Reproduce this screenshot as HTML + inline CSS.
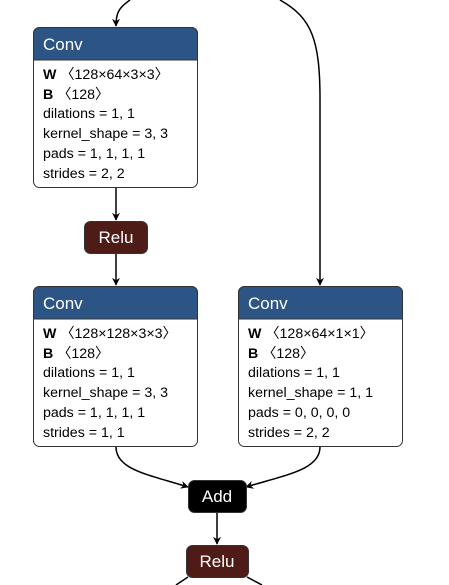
<!DOCTYPE html>
<html><head><style>
html,body{margin:0;padding:0;background:#fff;width:449px;height:585px;overflow:hidden}
svg{display:block;font-family:"Liberation Sans","DejaVu Sans",sans-serif}
.t{font-size:14.2px;fill:#000}
.h{font-size:17px;fill:#fff}
</style></head><body>
<svg width="449" height="585" viewBox="0 0 449 585">
<defs><marker id="a" viewBox="0 0 10 10" refX="9" refY="5" markerWidth="8" markerHeight="8" orient="auto" markerUnits="userSpaceOnUse"><path d="M0,0 L10,5 L0,10 L3,5 z" fill="#000"/></marker></defs>
<g fill="none" stroke="#000" stroke-width="1.5">
<path d="M130,0 C118,8 116,14 116,26" marker-end="url(#a)"/>
<path d="M280,0 C312,18 320,40 320,100 L320,285" marker-end="url(#a)"/>
<path d="M116,188 L116,220" marker-end="url(#a)"/>
<path d="M116,254 L116,285" marker-end="url(#a)"/>
<path d="M116,447 C116,470 150,475 188,487" marker-end="url(#a)"/>
<path d="M320,447 C320,470 285,475 246,487" marker-end="url(#a)"/>
<path d="M217,513 L217,544" marker-end="url(#a)"/>
<path d="M188,577 L176,585"/>
<path d="M247,577 L262,585"/>
</g>
<g>
<rect x="33.5" y="27.5" width="164" height="160" rx="6" fill="#fff" stroke="#333"/>
<path d="M33.5,60 V33.5 a6,6 0 0 1 6,-6 H191.5 a6,6 0 0 1 6,6 V60 Z" fill="#2c5485" stroke="#333"/>
<text x="43" y="50" class="h">Conv</text>
<text x="43" y="79" class="t"><tspan font-weight="bold">W</tspan> 〈128×64×3×3〉</text>
<text x="43" y="99" class="t"><tspan font-weight="bold">B</tspan> 〈128〉</text>
<text x="43" y="118" class="t">dilations = 1, 1</text>
<text x="43" y="138" class="t">kernel_shape = 3, 3</text>
<text x="43" y="158" class="t">pads = 1, 1, 1, 1</text>
<text x="43" y="178" class="t">strides = 2, 2</text>
</g>
<rect x="84.5" y="221.5" width="63" height="32" rx="6" fill="#4e1b17" stroke="#333"/>
<text x="116" y="243" class="h" text-anchor="middle">Relu</text>
<g>
<rect x="33.5" y="286.5" width="164" height="160" rx="6" fill="#fff" stroke="#333"/>
<path d="M33.5,319 V292.5 a6,6 0 0 1 6,-6 H191.5 a6,6 0 0 1 6,6 V319 Z" fill="#2c5485" stroke="#333"/>
<text x="43" y="309" class="h">Conv</text>
<text x="43" y="338" class="t"><tspan font-weight="bold">W</tspan> 〈128×128×3×3〉</text>
<text x="43" y="358" class="t"><tspan font-weight="bold">B</tspan> 〈128〉</text>
<text x="43" y="377" class="t">dilations = 1, 1</text>
<text x="43" y="397" class="t">kernel_shape = 3, 3</text>
<text x="43" y="417" class="t">pads = 1, 1, 1, 1</text>
<text x="43" y="437" class="t">strides = 1, 1</text>
</g>
<g>
<rect x="238.5" y="286.5" width="164" height="160" rx="6" fill="#fff" stroke="#333"/>
<path d="M238.5,319 V292.5 a6,6 0 0 1 6,-6 H396.5 a6,6 0 0 1 6,6 V319 Z" fill="#2c5485" stroke="#333"/>
<text x="248" y="309" class="h">Conv</text>
<text x="248" y="338" class="t"><tspan font-weight="bold">W</tspan> 〈128×64×1×1〉</text>
<text x="248" y="358" class="t"><tspan font-weight="bold">B</tspan> 〈128〉</text>
<text x="248" y="377" class="t">dilations = 1, 1</text>
<text x="248" y="397" class="t">kernel_shape = 1, 1</text>
<text x="248" y="417" class="t">pads = 0, 0, 0, 0</text>
<text x="248" y="437" class="t">strides = 2, 2</text>
</g>
<rect x="188.5" y="480.5" width="58" height="32" rx="6" fill="#000" stroke="#333"/>
<text x="217" y="502" class="h" text-anchor="middle">Add</text>
<rect x="186.5" y="545.5" width="62" height="32" rx="6" fill="#4e1b17" stroke="#333"/>
<text x="217" y="567" class="h" text-anchor="middle">Relu</text>
</svg>
</body></html>
